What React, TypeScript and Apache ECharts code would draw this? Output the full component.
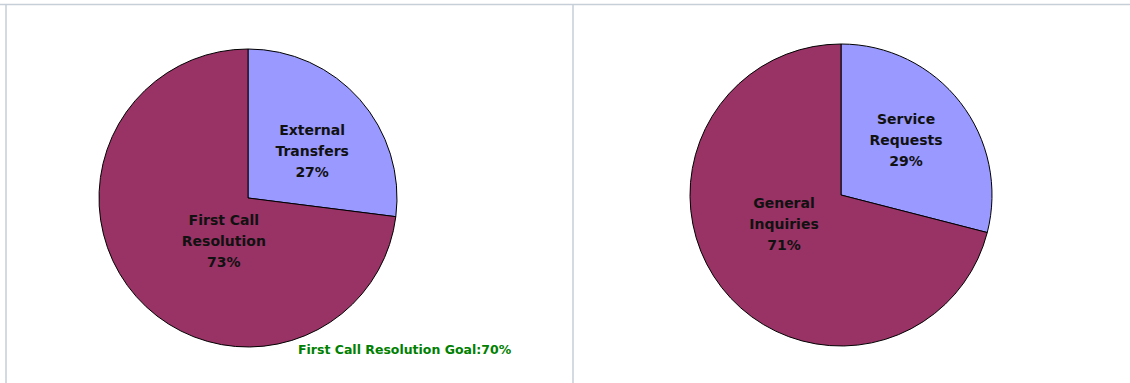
import React, { useEffect, useRef } from "react";
import * as echarts from "echarts";

const leftNames = ["External Transfers", "First Call Resolution"];
const leftValues = [27, 73];
const rightNames = ["Service Requests", "General Inquiries"];
const rightValues = [29, 71];
const sliceColors = ["#9999ff", "#993366"];
const goalText = "First Call Resolution Goal:70%";

export default function App() {
  const ref = useRef<HTMLDivElement>(null);
  useEffect(() => {
    document.body.style.margin = "0";
    const chart = echarts.init(ref.current!, undefined, { renderer: "svg" });
    const labelFmt = (p: any) => {
      const s = p.name.lastIndexOf(" ");
      return p.name.slice(0, s) + "\n" + p.name.slice(s + 1) + "\n" + p.value + "%";
    };
    const mkSeries = (names: string[], values: number[], center: string[], radius: number, offsets: number[][]) => ({
      type: "pie",
      center,
      radius,
      startAngle: 90,
      clockwise: true,
      avoidLabelOverlap: false,
      silent: true,
      data: names.map((n, i) => ({ name: n, value: values[i], itemStyle: { color: sliceColors[i] } })),
      itemStyle: { borderColor: "#000", borderWidth: 1 },
      label: {
        show: true,
        position: "inside",
        formatter: labelFmt,
        color: "#111",
        fontFamily: "DejaVu Sans, Arial, sans-serif",
        fontWeight: "bold",
        fontSize: 14,
        lineHeight: 21,
        align: "center",
      },
      labelLine: { show: false },
      labelLayout: (p: any) => ({ dx: offsets[p.dataIndex][0], dy: offsets[p.dataIndex][1] }),
    });
    chart.setOption({
      animation: false,
      backgroundColor: "#fff",
      series: [
        mkSeries(leftNames, leftValues, ["248", "198"], 149, [[6, 4], [34, -8]]),
        mkSeries(rightNames, rightValues, ["841", "195"], 151, [[3, -7], [5, -19]]),
      ],
      graphic: [
        { type: "line", shape: { x1: 0, y1: 4.5, x2: 1130, y2: 4.5 }, style: { stroke: "#c6ced8", lineWidth: 1.5 } },
        { type: "line", shape: { x1: 6, y1: 4, x2: 6, y2: 383 }, style: { stroke: "#c6ced8", lineWidth: 1.5 } },
        { type: "line", shape: { x1: 573, y1: 4, x2: 573, y2: 383 }, style: { stroke: "#c6ced8", lineWidth: 1.5 } },
        {
          type: "text",
          left: 298,
          top: 343,
          style: {
            text: goalText,
            fill: "#008000",
            font: "bold 12.5px 'DejaVu Sans', Arial, sans-serif",
          },
        },
      ],
    });
    return () => chart.dispose();
  }, []);
  return <div ref={ref} style={{ width: 1130, height: 383 }} />;
}
